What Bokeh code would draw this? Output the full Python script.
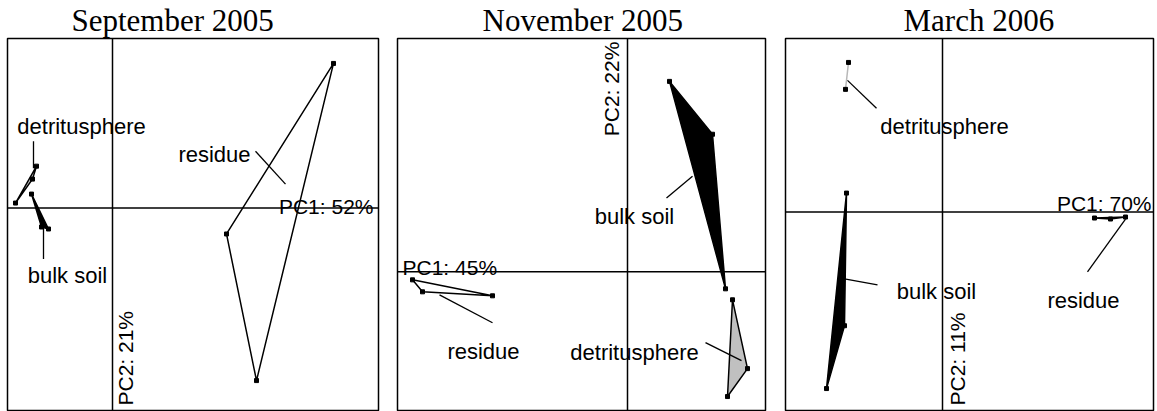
import math
from bokeh.plotting import figure
from bokeh.layouts import row
from bokeh.models import Span
from bokeh.core.properties import value
from bokeh.embed import file_html
from bokeh.resources import INLINE

# ---------------- data (PCA scores) ----------------
titles = ["September 2005", "November 2005", "March 2006"]
pc1_labels = ["PC1: 52%", "PC1: 45%", "PC1: 70%"]
pc2_labels = ["PC2: 21%", "PC2: 22%", "PC2: 11%"]
groups = ["detritusphere", "bulk soil", "residue"]

sep_detritusphere_pc1 = [-0.76, -0.80, -0.97]
sep_detritusphere_pc2 = [0.42, 0.29, 0.05]
sep_bulk_pc1 = [-0.81, -0.64, -0.71]
sep_bulk_pc2 = [0.14, -0.21, -0.19]
sep_residue_pc1 = [2.21, 1.14, 1.44]
sep_residue_pc2 = [1.45, -0.26, -1.73]

nov_detritusphere_pc1 = [1.05, 1.20, 1.00]
nov_detritusphere_pc2 = [-0.28, -0.97, -1.25]
nov_bulk_pc1 = [0.42, 0.85, 0.98]
nov_bulk_pc2 = [1.91, 1.38, -0.17]
nov_residue_pc1 = [-2.15, -2.05, -1.35]
nov_residue_pc2 = [-0.08, -0.20, -0.24]

mar_detritusphere_pc1 = [-0.94, -0.97]
mar_detritusphere_pc2 = [1.50, 1.23]
mar_bulk_pc1 = [-0.96, -0.98, -1.16]
mar_bulk_pc2 = [0.19, -1.14, -1.77]
mar_residue_pc1 = [1.52, 1.68, 1.83]
mar_residue_pc2 = [-0.06, -0.07, -0.05]

scores = [
    {"detritusphere": (sep_detritusphere_pc1, sep_detritusphere_pc2),
     "bulk soil": (sep_bulk_pc1, sep_bulk_pc2),
     "residue": (sep_residue_pc1, sep_residue_pc2)},
    {"detritusphere": (nov_detritusphere_pc1, nov_detritusphere_pc2),
     "bulk soil": (nov_bulk_pc1, nov_bulk_pc2),
     "residue": (nov_residue_pc1, nov_residue_pc2)},
    {"detritusphere": (mar_detritusphere_pc1, mar_detritusphere_pc2),
     "bulk soil": (mar_bulk_pc1, mar_bulk_pc2),
     "residue": (mar_residue_pc1, mar_residue_pc2)},
]

# ---------------- layout / style ----------------
GREY = "#c0c0c0"
styles = [
    {"detritusphere": (GREY, "black"), "bulk soil": ("black", "black"), "residue": ("white", "black")},
    {"detritusphere": (GREY, "black"), "bulk soil": ("black", "black"), "residue": ("white", "black")},
    {"detritusphere": (GREY, "#b8b8b8"), "bulk soil": ("black", "black"), "residue": ("black", "black")},
]

panels = [
    dict(width=388, mbl=7, mbr=10, xr=(-1.05, 2.66), yr=(-2.03, 1.70), title_off=64,
         labels={"detritusphere": (-0.31, 0.82, (-0.79, 0.40, -0.79, 0.67)),
                 "bulk soil": (-0.45, -0.68, (-0.69, -0.21, -0.69, -0.51)),
                 "residue": (1.02, 0.54, (1.43, 0.57, 1.73, 0.24))},
         pc1=(2.61, 0.02, "right"), pc2=(0.13, -1.98)),
    dict(width=388, mbl=9, mbr=11, xr=(-2.30, 1.38), yr=(-1.39, 2.34), title_off=85,
         labels={"detritusphere": (0.07, -0.81, (0.78, -0.71, 1.14, -0.89)),
                 "bulk soil": (0.07, 0.56, (0.65, 0.96, 0.39, 0.74)),
                 "residue": (-1.44, -0.80, (-1.88, -0.23, -1.35, -0.51))},
         pc1=(-2.25, 0.04, "left"), pc2=(-0.16, 1.36)),
    dict(width=381, mbl=9, mbr=4, xr=(-1.57, 2.11), yr=(-1.99, 1.74), title_off=118,
         labels={"detritusphere": (0.02, 0.86, (-0.95, 1.32, -0.66, 1.04)),
                 "bulk soil": (-0.06, -0.80, (-0.98, -0.67, -0.65, -0.73)),
                 "residue": (1.41, -0.89, (1.83, -0.07, 1.45, -0.60))},
         pc1=(2.09, 0.09, "right"), pc2=(0.15, -1.94)),
]

H = 411
MBT = 37
MBB = 1
SANS = "Liberation Sans"
SERIF = "Liberation Serif"

figs = []
for i, conf in enumerate(panels):
    p = figure(width=conf["width"], height=H, x_range=conf["xr"], y_range=conf["yr"],
               x_axis_type=None, y_axis_type=None, toolbar_location=None,
               output_backend="svg", min_border_left=conf["mbl"], min_border_right=conf["mbr"],
               min_border_top=MBT, min_border_bottom=MBB, title=titles[i])
    p.title.text_font = SERIF
    p.title.text_font_size = "31px"
    p.title.text_font_style = "normal"
    p.title.align = "left"
    p.title.offset = conf["title_off"]
    p.title.standoff = 1
    p.title.text_color = "black"

    p.outline_line_color = "black"
    p.outline_line_width = 1.5
    p.background_fill_color = "white"
    p.border_fill_color = "white"

    p.add_layout(Span(location=0, dimension="height", line_color="black", line_width=1.5))
    p.add_layout(Span(location=0, dimension="width", line_color="black", line_width=1.5))

    for g in groups:
        xs, ys = scores[i][g]
        fill, line = styles[i][g]
        p.patch(xs, ys, fill_color=fill, line_color=line, line_width=1.5)
        p.scatter(xs, ys, marker="square", size=4, color="black")
        lx, ly, (x0, y0, x1, y1) = conf["labels"][g]
        p.segment(x0=[x0], y0=[y0], x1=[x1], y1=[y1], line_color="black", line_width=1.3)
        p.text(x=[lx], y=[ly], text=[g], text_font=value(SANS), text_font_size="22px",
               text_align="center", text_baseline="alphabetic", text_color="black")

    px, py, pal = conf["pc1"]
    p.text(x=[px], y=[py], text=[pc1_labels[i]], text_font=value(SANS), text_font_size="21px",
           text_align=pal, text_baseline="alphabetic", text_color="black")
    qx, qy = conf["pc2"]
    p.text(x=[qx], y=[qy], text=[pc2_labels[i]], text_font=value(SANS), text_font_size="21px",
           text_align="left", text_baseline="alphabetic", angle=math.pi / 2, text_color="black")
    figs.append(p)

layout = row(*figs)
open("out.html", "w").write(file_html(layout, INLINE))
